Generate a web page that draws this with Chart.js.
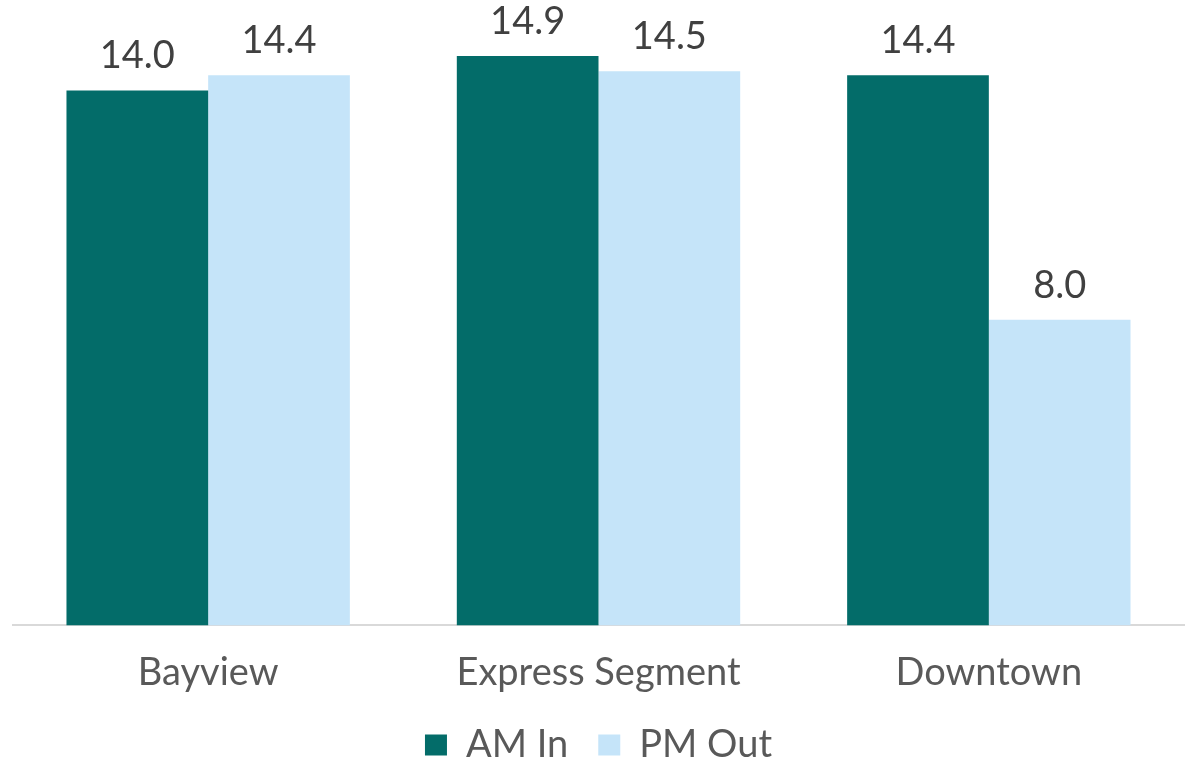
<!DOCTYPE html>
<html>
<head>
<meta charset="utf-8">
<script src="https://cdn.jsdelivr.net/npm/chart.js@4"></script>
<style>
  html, body { margin: 0; padding: 0; background: #fff; }
  #wrap { width: 1188px; height: 762px; }
</style>
</head>
<body>
<div id="wrap"><canvas id="chart"></canvas></div>
<script>
const categories = ["Bayview", "Express Segment", "Downtown"];
const amIn = [14.0, 14.9, 14.4];
const pmOut = [14.4, 14.5, 8.0];
const seriesNames = ["AM In", "PM Out"];

const FONT = "Lato, 'DejaVu Sans', sans-serif";

// value labels above each bar
const valueLabels = {
  id: "valueLabels",
  afterDatasetsDraw(chart) {
    const ctx = chart.ctx;
    ctx.save();
    ctx.font = "38px " + FONT;
    ctx.fillStyle = "#404040";
    ctx.textAlign = "center";
    ctx.textBaseline = "alphabetic";
    chart.data.datasets.forEach((ds, i) => {
      chart.getDatasetMeta(i).data.forEach((bar, j) => {
        ctx.fillText(ds.data[j].toFixed(1), bar.x, bar.y - 22);
      });
    });
    ctx.restore();
  }
};

new Chart(document.getElementById("chart"), {
  type: "bar",
  data: {
    labels: categories,
    datasets: [
      { label: seriesNames[0], data: amIn, backgroundColor: "#036c69" },
      { label: seriesNames[1], data: pmOut, backgroundColor: "#c5e4f9" }
    ]
  },
  options: {
    responsive: true,
    maintainAspectRatio: false,
    animation: false,
    layout: { padding: { left: 13, right: 4, top: 14, bottom: -12 } },
    datasets: { bar: { categoryPercentage: 0.726, barPercentage: 1.0 } },
    scales: {
      x: {
        grid: { display: false, tickLength: 25 },
        border: { color: "#d9d9d9", width: 2 },
        ticks: { color: "#595959", font: { family: FONT, size: 38, lineHeight: 1.2 }, padding: 0 }
      },
      y: {
        display: false,
        min: 0,
        max: 16
      }
    },
    plugins: {
      legend: {
        position: "bottom",
        labels: {
          color: "#595959",
          font: { family: FONT, size: 38 },
          boxWidth: 22,
          boxHeight: 21,
          padding: 30
        }
      },
      tooltip: { enabled: false }
    }
  },
  plugins: [valueLabels]
});
</script>
</body>
</html>
